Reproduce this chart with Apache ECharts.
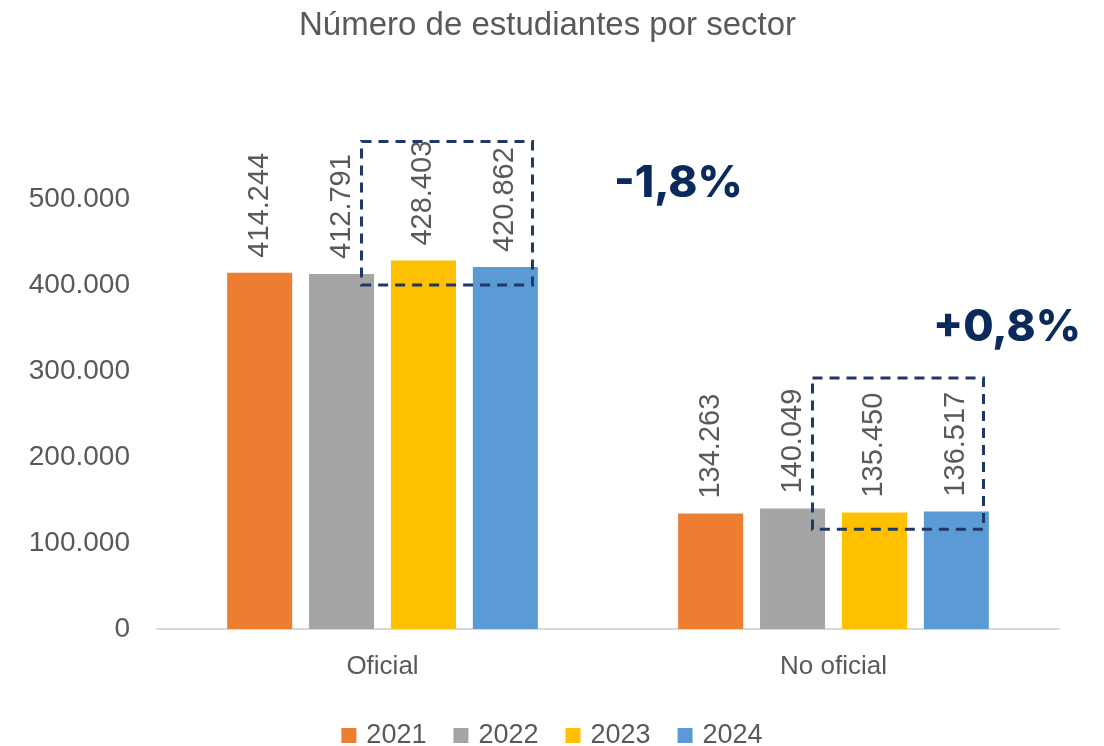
<!DOCTYPE html>
<html>
<head>
<meta charset="utf-8">
<script src="https://cdn.jsdelivr.net/npm/echarts@6/dist/echarts.min.js"></script>
<style>
html,body{margin:0;padding:0;background:#fff;}
#chart{width:1104px;height:746px;}
</style>
</head>
<body>
<div id="chart"></div>
<script>
const categories = ['Oficial', 'No oficial'];
const years = ['2021', '2022', '2023', '2024'];
const values2021 = [414244, 134263];
const values2022 = [412791, 140049];
const values2023 = [428403, 135450];
const values2024 = [420862, 136517];
const yTicks = [0, 100000, 200000, 300000, 400000, 500000];
const changeLabels = ['-1,8%', '+0,8%'];
// dashed highlight boxes (value range on the y axis)
const boxLow = [400000, 116000];
const boxHigh = [567000, 292000];

const colors = ['#ED7D31', '#A5A5A5', '#FFC000', '#5B9BD5'];
const FONT = "'Liberation Sans', Arial, sans-serif";
const GRAY = '#595959';

function fmt(v) {
  return String(Math.round(v)).replace(/\B(?=(\d{3})+(?!\d))/g, '.');
}

const seriesValues = [values2021, values2022, values2023, values2024];

const chart = echarts.init(document.getElementById('chart'));
const option = {
  backgroundColor: '#fff',
  animation: false,
  color: colors,
  title: {
    text: 'Número de estudiantes por sector',
    left: 294,
    top: 4,
    textStyle: { fontFamily: FONT, fontSize: 33, fontWeight: 'normal', color: GRAY }
  },
  legend: {
    data: years,
    left: 'center',
    top: 717,
    itemWidth: 15,
    itemHeight: 15,
    itemGap: 27,
    icon: 'rect',
    textStyle: { fontFamily: FONT, fontSize: 27, color: GRAY, padding: [0, 0, 0, 5] }
  },
  grid: { left: 157, right: 45, top: 199, bottom: 117, containLabel: false },
  xAxis: {
    type: 'category',
    data: categories,
    axisLine: { show: true, lineStyle: { color: '#D9D9D9', width: 2 } },
    axisTick: { show: false },
    axisLabel: { fontFamily: FONT, fontSize: 26, color: GRAY, margin: 25 }
  },
  yAxis: {
    type: 'value',
    min: yTicks[0],
    max: yTicks[yTicks.length - 1],
    interval: yTicks[1] - yTicks[0],
    splitLine: { show: false },
    axisLine: { show: false },
    axisTick: { show: false },
    axisLabel: { fontFamily: FONT, fontSize: 28, color: GRAY, margin: 27, formatter: fmt }
  },
  series: years.map((y, i) => ({
    name: y,
    type: 'bar',
    data: seriesValues[i],
    barWidth: 65,
    barGap: '26%',
    itemStyle: { color: colors[i] },
    label: {
      show: true,
      position: 'top',
      rotate: 90,
      align: 'left',
      verticalAlign: 'middle',
      distance: 15,
      fontFamily: FONT,
      fontSize: 29,
      color: GRAY,
      formatter: p => fmt(p.value)
    }
  }))
};
chart.setOption(option);

function drawAnnotations() {
  const graphics = [];
  categories.forEach((c, i) => {
    const lo = chart.convertToPixel({ gridIndex: 0 }, [c, boxLow[i]]);
    const hi = chart.convertToPixel({ gridIndex: 0 }, [c, boxHigh[i]]);
    const cx = lo[0];
    graphics.push({
      type: 'rect',
      shape: { x: cx - 21, y: hi[1], width: 171, height: lo[1] - hi[1] },
      style: { fill: 'none', stroke: '#1F3864', lineWidth: 3, lineDash: [10, 7] },
      z: 10
    });
  });
  graphics.push({
    type: 'text', left: 614, top: 162,
    style: { text: changeLabels[0], font: "800 44px Inter, 'Open Sans', sans-serif", fill: '#0B2A5C' },
    z: 10
  });
  graphics.push({
    type: 'text', left: 933, top: 306,
    style: { text: changeLabels[1], font: "800 44px Inter, 'Open Sans', sans-serif", fill: '#0B2A5C' },
    z: 10
  });
  chart.setOption({ graphic: graphics });
}
drawAnnotations();
</script>
</body>
</html>
